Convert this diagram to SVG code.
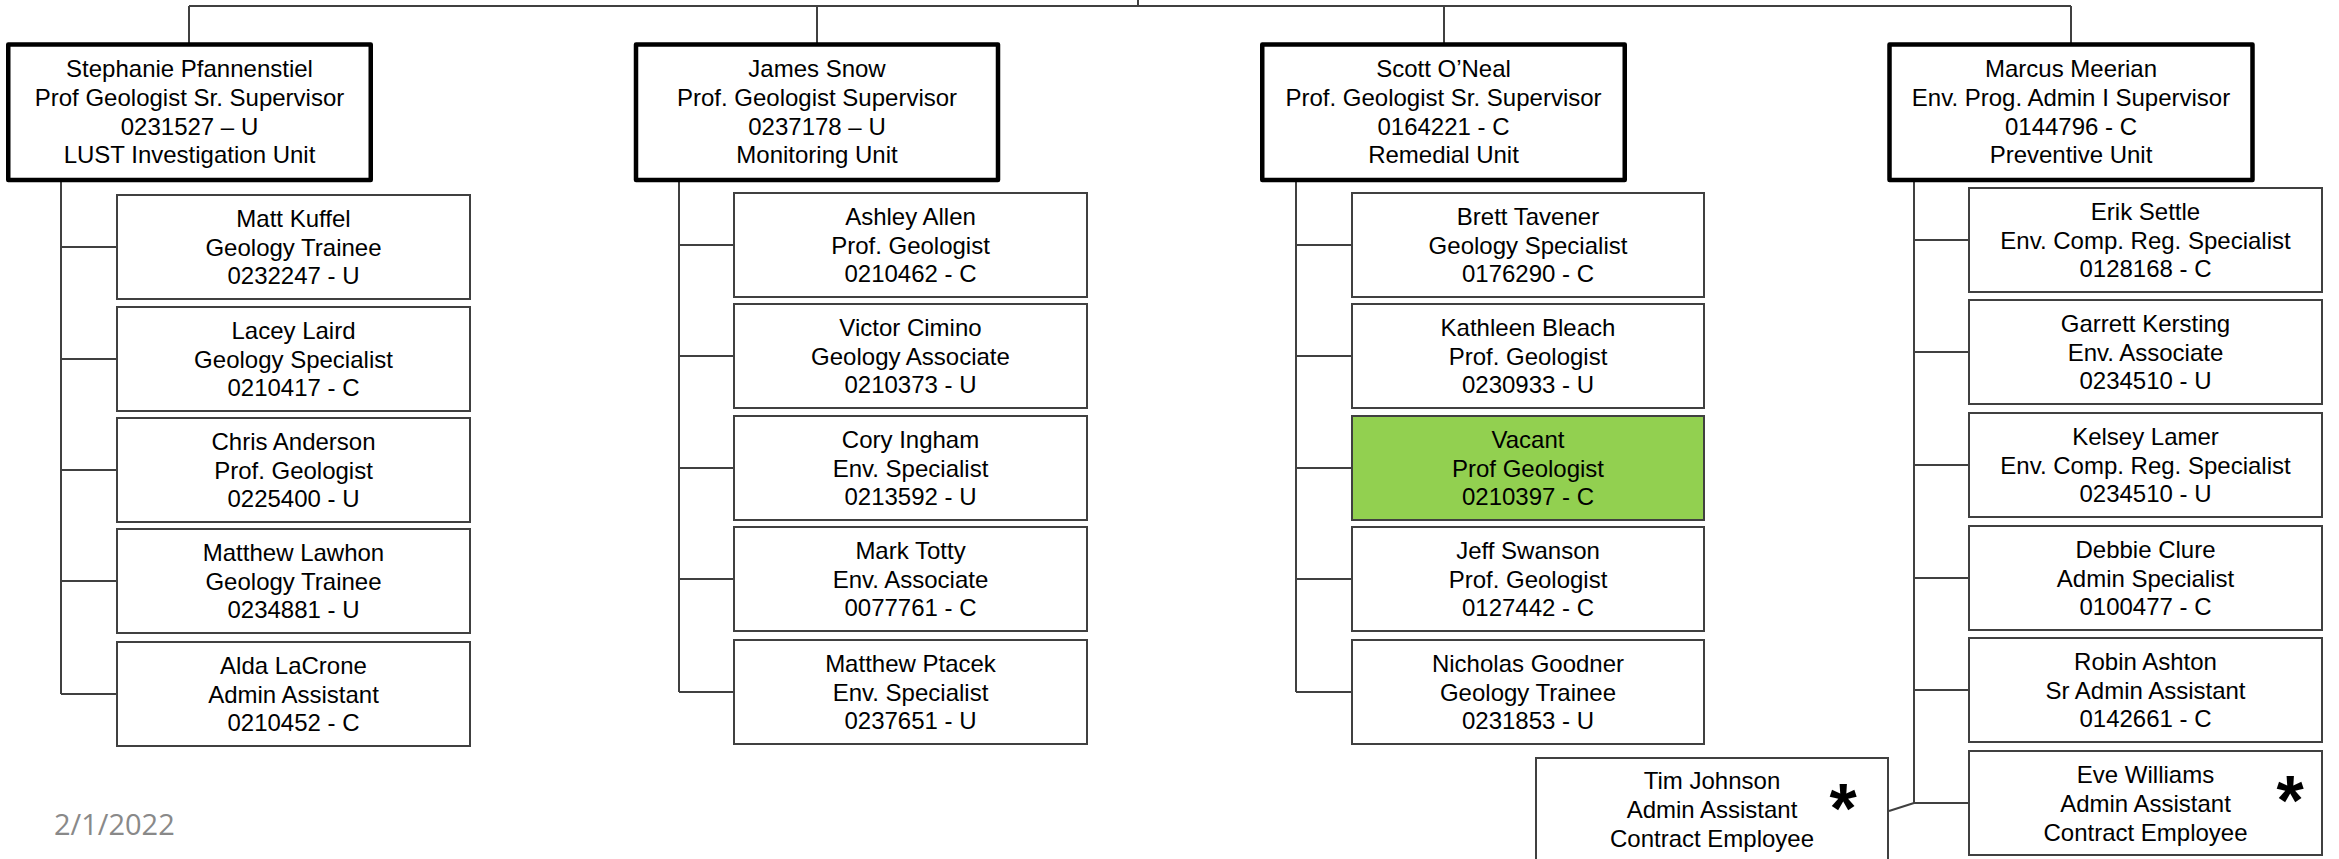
<svg xmlns="http://www.w3.org/2000/svg" width="2339" height="859" viewBox="0 0 2339 859">
<style>
.bg{fill:#ffffff}
.sup{fill:#ffffff;stroke:#000000;stroke-width:4.5;stroke-linejoin:round}
.box{fill:#ffffff;stroke:#404040;stroke-width:2}
.vac{fill:#92D050;stroke:#404040;stroke-width:2}
.t{font-family:"Liberation Sans",Arial,sans-serif;font-size:24px;fill:#000000;text-anchor:middle}
.ast{font-family:"Liberation Sans",Arial,sans-serif;font-size:70px;font-weight:bold;fill:#000000;text-anchor:middle}
.date{font-family:"Open Sans","Liberation Sans",sans-serif;font-size:29px;fill:#898989}
.c{fill:none;stroke:#404040;stroke-width:2}
</style>
<rect class="bg" x="0" y="0" width="2339" height="859"/>

<g id="connectors">
<path class="c" d="M1138,0 V6 M189,6 H2071 M189,6 V43 M817,6 V43 M1444,6 V43 M2071,6 V43"/>
<path class="c" d="M61,182 V694 M61,247 H116 M61,359 H116 M61,470 H116 M61,581 H116 M61,694 H116"/>
<path class="c" d="M679,182 V692 M679,245 H733 M679,356 H733 M679,468 H733 M679,579 H733 M679,692 H733"/>
<path class="c" d="M1296,182 V692 M1296,245 H1351 M1296,356 H1351 M1296,468 H1351 M1296,579 H1351 M1296,692 H1351"/>
<path class="c" d="M1914,182 V803 M1914,240 H1968 M1914,352 H1968 M1914,465 H1968 M1914,578 H1968 M1914,690 H1968 M1914,803 H1968 M1914,803 L1889,811"/>
</g>

<g id="sup-pfannenstiel">
<rect class="sup" x="8.25" y="44.5" width="362.5" height="135.5"/>
<text class="t"><tspan x="189.5" y="77">Stephanie Pfannenstiel</tspan><tspan x="189.5" y="106">Prof Geologist Sr. Supervisor</tspan><tspan x="189.5" y="134.5">0231527 – U</tspan><tspan x="189.5" y="163">LUST Investigation Unit</tspan></text>
</g>
<g id="sup-snow">
<rect class="sup" x="636" y="44.5" width="362" height="135.5"/>
<text class="t"><tspan x="817" y="77">James Snow</tspan><tspan x="817" y="106">Prof. Geologist Supervisor</tspan><tspan x="817" y="134.5">0237178 – U</tspan><tspan x="817" y="163">Monitoring Unit</tspan></text>
</g>
<g id="sup-oneal">
<rect class="sup" x="1262.25" y="44.5" width="362.5" height="135.5"/>
<text class="t"><tspan x="1443.5" y="77">Scott O’Neal</tspan><tspan x="1443.5" y="106">Prof. Geologist Sr. Supervisor</tspan><tspan x="1443.5" y="134.5">0164221 - C</tspan><tspan x="1443.5" y="163">Remedial Unit</tspan></text>
</g>
<g id="sup-meerian">
<rect class="sup" x="1889.5" y="44.5" width="363" height="135.5"/>
<text class="t"><tspan x="2071" y="77">Marcus Meerian</tspan><tspan x="2071" y="106">Env. Prog. Admin I Supervisor</tspan><tspan x="2071" y="134.5">0144796 - C</tspan><tspan x="2071" y="163">Preventive Unit</tspan></text>
</g>

<g id="kuffel"><rect class="box" x="117" y="195" width="353" height="104"/>
<text class="t"><tspan x="293.5" y="226.7">Matt Kuffel</tspan><tspan x="293.5" y="255.5">Geology Trainee</tspan><tspan x="293.5" y="284.3">0232247 - U</tspan></text></g>
<g id="laird"><rect class="box" x="117" y="307" width="353" height="104"/>
<text class="t"><tspan x="293.5" y="338.7">Lacey Laird</tspan><tspan x="293.5" y="367.5">Geology Specialist</tspan><tspan x="293.5" y="396.3">0210417 - C</tspan></text></g>
<g id="anderson"><rect class="box" x="117" y="418" width="353" height="104"/>
<text class="t"><tspan x="293.5" y="449.7">Chris Anderson</tspan><tspan x="293.5" y="478.5">Prof. Geologist</tspan><tspan x="293.5" y="507.3">0225400 - U</tspan></text></g>
<g id="lawhon"><rect class="box" x="117" y="529" width="353" height="104"/>
<text class="t"><tspan x="293.5" y="560.7">Matthew Lawhon</tspan><tspan x="293.5" y="589.5">Geology Trainee</tspan><tspan x="293.5" y="618.3">0234881 - U</tspan></text></g>
<g id="lacrone"><rect class="box" x="117" y="642" width="353" height="104"/>
<text class="t"><tspan x="293.5" y="673.7">Alda LaCrone</tspan><tspan x="293.5" y="702.5">Admin Assistant</tspan><tspan x="293.5" y="731.3">0210452 - C</tspan></text></g>

<g id="allen"><rect class="box" x="734" y="193" width="353" height="104"/>
<text class="t"><tspan x="910.5" y="224.7">Ashley Allen</tspan><tspan x="910.5" y="253.5">Prof. Geologist</tspan><tspan x="910.5" y="282.3">0210462 - C</tspan></text></g>
<g id="cimino"><rect class="box" x="734" y="304" width="353" height="104"/>
<text class="t"><tspan x="910.5" y="335.7">Victor Cimino</tspan><tspan x="910.5" y="364.5">Geology Associate</tspan><tspan x="910.5" y="393.3">0210373 - U</tspan></text></g>
<g id="ingham"><rect class="box" x="734" y="416" width="353" height="104"/>
<text class="t"><tspan x="910.5" y="447.7">Cory Ingham</tspan><tspan x="910.5" y="476.5">Env. Specialist</tspan><tspan x="910.5" y="505.3">0213592 - U</tspan></text></g>
<g id="totty"><rect class="box" x="734" y="527" width="353" height="104"/>
<text class="t"><tspan x="910.5" y="558.7">Mark Totty</tspan><tspan x="910.5" y="587.5">Env. Associate</tspan><tspan x="910.5" y="616.3">0077761 - C</tspan></text></g>
<g id="ptacek"><rect class="box" x="734" y="640" width="353" height="104"/>
<text class="t"><tspan x="910.5" y="671.7">Matthew Ptacek</tspan><tspan x="910.5" y="700.5">Env. Specialist</tspan><tspan x="910.5" y="729.3">0237651 - U</tspan></text></g>

<g id="tavener"><rect class="box" x="1352" y="193" width="352" height="104"/>
<text class="t"><tspan x="1528" y="224.7">Brett Tavener</tspan><tspan x="1528" y="253.5">Geology Specialist</tspan><tspan x="1528" y="282.3">0176290 - C</tspan></text></g>
<g id="bleach"><rect class="box" x="1352" y="304" width="352" height="104"/>
<text class="t"><tspan x="1528" y="335.7">Kathleen Bleach</tspan><tspan x="1528" y="364.5">Prof. Geologist</tspan><tspan x="1528" y="393.3">0230933 - U</tspan></text></g>
<g id="vacant"><rect class="vac" x="1352" y="416" width="352" height="104"/>
<text class="t"><tspan x="1528" y="447.7">Vacant</tspan><tspan x="1528" y="476.5">Prof Geologist</tspan><tspan x="1528" y="505.3">0210397 - C</tspan></text></g>
<g id="swanson"><rect class="box" x="1352" y="527" width="352" height="104"/>
<text class="t"><tspan x="1528" y="558.7">Jeff Swanson</tspan><tspan x="1528" y="587.5">Prof. Geologist</tspan><tspan x="1528" y="616.3">0127442 - C</tspan></text></g>
<g id="goodner"><rect class="box" x="1352" y="640" width="352" height="104"/>
<text class="t"><tspan x="1528" y="671.7">Nicholas Goodner</tspan><tspan x="1528" y="700.5">Geology Trainee</tspan><tspan x="1528" y="729.3">0231853 - U</tspan></text></g>

<g id="settle"><rect class="box" x="1969" y="188" width="353" height="104"/>
<text class="t"><tspan x="2145.5" y="219.7">Erik Settle</tspan><tspan x="2145.5" y="248.5">Env. Comp. Reg. Specialist</tspan><tspan x="2145.5" y="277.3">0128168 - C</tspan></text></g>
<g id="kersting"><rect class="box" x="1969" y="300" width="353" height="104"/>
<text class="t"><tspan x="2145.5" y="331.7">Garrett Kersting</tspan><tspan x="2145.5" y="360.5">Env. Associate</tspan><tspan x="2145.5" y="389.3">0234510 - U</tspan></text></g>
<g id="lamer"><rect class="box" x="1969" y="413" width="353" height="104"/>
<text class="t"><tspan x="2145.5" y="444.7">Kelsey Lamer</tspan><tspan x="2145.5" y="473.5">Env. Comp. Reg. Specialist</tspan><tspan x="2145.5" y="502.3">0234510 - U</tspan></text></g>
<g id="clure"><rect class="box" x="1969" y="526" width="353" height="104"/>
<text class="t"><tspan x="2145.5" y="557.7">Debbie Clure</tspan><tspan x="2145.5" y="586.5">Admin Specialist</tspan><tspan x="2145.5" y="615.3">0100477 - C</tspan></text></g>
<g id="ashton"><rect class="box" x="1969" y="638" width="353" height="104"/>
<text class="t"><tspan x="2145.5" y="669.7">Robin Ashton</tspan><tspan x="2145.5" y="698.5">Sr Admin Assistant</tspan><tspan x="2145.5" y="727.3">0142661 - C</tspan></text></g>
<g id="williams"><rect class="box" x="1969" y="751" width="353" height="104"/>
<text class="t"><tspan x="2145.5" y="783">Eve Williams</tspan><tspan x="2145.5" y="812">Admin Assistant</tspan><tspan x="2145.5" y="841">Contract Employee</tspan></text>
<text class="ast" x="2290" y="825">*</text></g>

<g id="johnson"><rect class="box" x="1536" y="758" width="352" height="110"/>
<text class="t"><tspan x="1712" y="789">Tim Johnson</tspan><tspan x="1712" y="818">Admin Assistant</tspan><tspan x="1712" y="847">Contract Employee</tspan></text>
<text class="ast" x="1843" y="833">*</text></g>

<g id="date"><text class="date" x="54" y="835">2/1/2022</text></g>
</svg>
